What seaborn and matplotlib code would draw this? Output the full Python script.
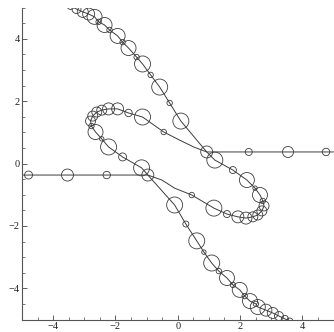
import numpy as np
import pandas as pd
import matplotlib
matplotlib.use("Agg")
import matplotlib.pyplot as plt
from matplotlib.ticker import MultipleLocator
import seaborn as sns

# branch 1: top-left diagonal -> right junction -> lower loop -> left horizontal
x1 = [-3.60, -3.44, -3.25, -3.05, -2.86, -2.67, -2.54, -2.35, -2.19, -1.93, -1.77, -1.58,
      -1.32, -1.13, -0.87, -0.58, -0.26, 0.10, 0.93, 1.19, 1.77, 2.22, 2.48, 2.64, 2.73,
      2.77, 2.70, 2.57, 2.41, 2.19, 1.93, 1.58, 1.16, 0.45, -0.10, -0.51, -0.96, -2.28,
      -3.54, -4.79, -5.00]
y1 = [5.14, 5.05, 4.95, 4.86, 4.79, 4.70, 4.54, 4.44, 4.28, 4.09, 3.89, 3.70,
      3.41, 3.19, 2.84, 2.45, 1.94, 1.36, 0.37, 0.11, -0.21, -0.53, -0.79, -1.01, -1.20,
      -1.36, -1.52, -1.65, -1.71, -1.75, -1.71, -1.62, -1.43, -1.01, -0.79, -0.53, -0.37, -0.37,
      -0.37, -0.37, -0.37]
r1 = [3, 3.5, 4.5, 5.5, 6, 7.5, 2.7, 7.5, 2.7, 7.5, 2.7, 7.5,
      2.7, 8, 2.7, 8.3, 2.7, 8, 6, 8, 3.5, 7.5, 2.2, 7.5, 2.7,
      5, 5, 5, 5, 6, 6, 3.5, 8, 2.7, 0, 0, 0, 3.7,
      6, 4, 0]

# branch 2: bottom-right diagonal -> left junction -> upper loop -> right horizontal
x2 = [3.60, 3.44, 3.25, 3.05, 2.83, 2.57, 2.51, 2.32, 2.15, 1.99, 1.77, 1.58,
      1.32, 1.09, 0.84, 0.61, 0.26, -0.10, -0.96, -1.16, -1.77, -2.22, -2.44, -2.64, -2.77,
      -2.80, -2.73, -2.60, -2.44, -2.22, -1.93, -1.58, -1.13, -0.45, 0.06, 0.51, 0.93, 2.28,
      3.54, 4.76, 5.00]
y2 = [-5.05, -4.98, -4.89, -4.79, -4.70, -4.60, -4.50, -4.41, -4.25, -4.05, -3.89, -3.67,
      -3.45, -3.19, -2.84, -2.48, -1.94, -1.33, -0.37, -0.14, 0.21, 0.53, 0.79, 1.01, 1.20,
      1.36, 1.52, 1.65, 1.71, 1.75, 1.75, 1.62, 1.49, 1.01, 0.75, 0.53, 0.37, 0.37,
      0.37, 0.37, 0.37]
r2 = [3, 3.5, 4.5, 5.5, 6, 7.5, 2.7, 7.5, 2.7, 7.5, 2.7, 7.5,
      2.7, 8, 2.2, 8.3, 3, 8, 6, 8, 4, 8, 2.2, 7.5, 2.7,
      5, 5, 5, 5, 6, 6, 3.7, 8, 2.7, 0, 0, 0, 3.5,
      5.5, 3.7, 0]

ticks = [-4, -2, 0, 2, 4]

sns.set_theme(style="white")
plt.rcParams["font.family"] = ["Liberation Serif", "DejaVu Serif"]

fig = plt.figure(figsize=(3.34, 3.32), dpi=100)
ax = fig.add_axes([22 / 334, 12.5 / 332, 311.5 / 334, 312 / 332])

line_col = "#3c3c3c"
for xs, ys in [(x1, y1), (x2, y2)]:
    sns.lineplot(x=xs, y=ys, sort=False, estimator=None, color=line_col,
                 linewidth=0.7, ax=ax)

pts = pd.DataFrame({"x": x1 + x2, "y": y1 + y2, "r": r1 + r2})
pts = pts[pts["r"] > 0]
pts["area"] = pts["r"] ** 2
sns.scatterplot(data=pts, x="x", y="y", size="area", sizes=(0, 2.07 * 64),
                size_norm=(0, 64), facecolor="none", edgecolor=line_col,
                linewidth=0.6, legend=False, ax=ax)

ax.set_xlim(-5, 5)
ax.set_ylim(-5, 5)
ax.set_xticks(ticks)
ax.set_yticks(ticks)
ax.xaxis.set_minor_locator(MultipleLocator(0.5))
ax.yaxis.set_minor_locator(MultipleLocator(0.5))
ax.tick_params(which="major", direction="in", length=3.4, width=0.6,
               labelsize=7.5, pad=1.5, color="#444444", labelcolor="#222222",
               bottom=True, left=True)
ax.tick_params(which="minor", direction="in", length=2, width=0.5,
               color="#444444", bottom=True, left=True)
ax.set_xlabel("")
ax.set_ylabel("")
for side in ["top", "right"]:
    ax.spines[side].set_visible(False)
for side in ["left", "bottom"]:
    ax.spines[side].set_color("#555555")
    ax.spines[side].set_linewidth(0.8)

fig.savefig("out.png", dpi=100)
